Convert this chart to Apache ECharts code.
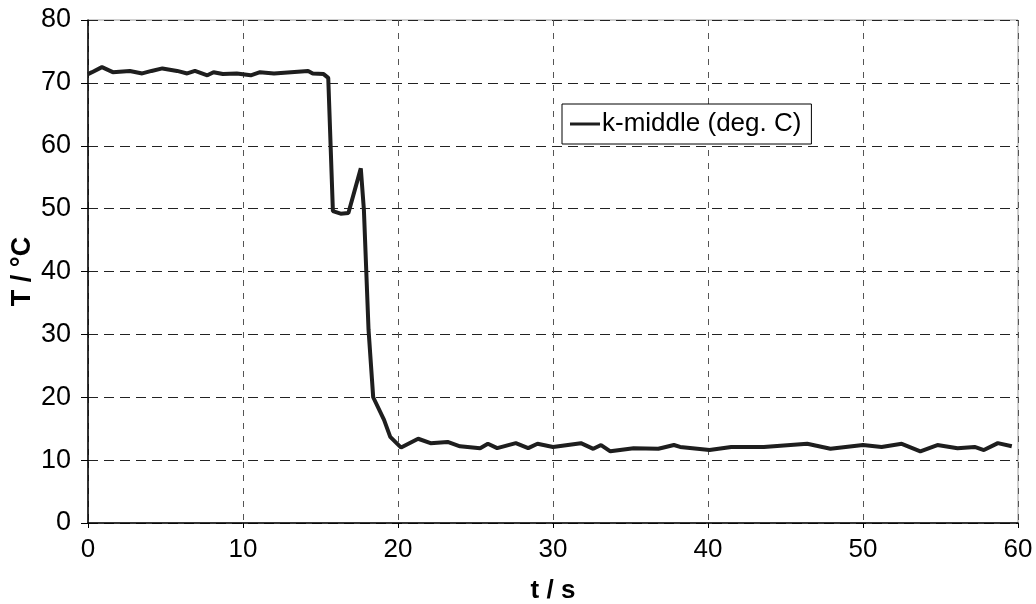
<!DOCTYPE html>
<html>
<head>
<meta charset="utf-8">
<script src="https://cdn.jsdelivr.net/npm/echarts@6/dist/echarts.min.js"></script>
<style>
  html, body { margin: 0; padding: 0; background: #fff; }
  #chart { width: 1036px; height: 604px; }
</style>
</head>
<body>
<div id="chart"></div>
<script>
// Thermocouple reading at the middle position over time
const timeS = [
  0.0, 0.26, 0.9, 1.6, 2.7, 3.5, 4.1, 4.8, 5.75, 6.4, 6.9, 7.7, 8.1, 8.7, 9.6,
  10.5, 11.1, 12.0, 13.1, 14.2, 14.5, 15.2, 15.5,
  15.8, 16.3, 16.8, 17.6, 17.8, 18.1, 18.4, 19.1, 19.5, 20.2,
  21.3, 22.1, 23.2, 24.0, 25.3, 25.8, 26.4, 27.6, 28.4, 29.0, 30.0,
  31.8, 32.6, 33.1, 33.7, 35.2, 36.8, 37.8, 38.2,
  40.1, 41.5, 43.6, 46.4, 47.9, 50.0, 51.2, 52.5, 53.7, 54.8, 56.1, 57.2, 57.8, 58.7, 59.6
];
const tempC = [
  71.4, 71.7, 72.5, 71.7, 71.9, 71.5, 71.9, 72.3, 71.9, 71.5, 71.9, 71.2, 71.7, 71.4, 71.5,
  71.2, 71.7, 71.5, 71.7, 71.9, 71.5, 71.4, 70.8,
  49.6, 49.2, 49.3, 56.4, 49.8, 30.7, 20.0, 16.4, 13.7, 12.0,
  13.4, 12.7, 12.9, 12.2, 11.9, 12.6, 11.9, 12.7, 11.9, 12.6, 12.1,
  12.7, 11.8, 12.4, 11.4, 11.9, 11.8, 12.4, 12.1,
  11.6, 12.1, 12.1, 12.6, 11.8, 12.4, 12.1, 12.6, 11.4, 12.4, 11.9, 12.1, 11.6, 12.7, 12.2
];
const seriesName = 'k-middle (deg. C)';
const xTitle = 't / s';
const yTitle = 'T / °C';

const points = timeS.map((t, i) => [t, tempC[i]]);
const font = 'Liberation Sans, Arial, sans-serif';

const chart = echarts.init(document.getElementById('chart'), null, { renderer: 'canvas' });
chart.setOption({
  animation: false,
  backgroundColor: '#fff',
  grid: {
    left: 88, right: 18, top: 20, bottom: 81,
    outerBoundsMode: 'none',
    containLabel: false,
    show: true, borderColor: '#a0a0a0', borderWidth: 1, backgroundColor: 'transparent'
  },
  legend: {
    data: [seriesName],
    left: 562, top: 104,
    orient: 'horizontal',
    backgroundColor: '#fff',
    borderColor: '#000', borderWidth: 1, borderRadius: 0,
    padding: [7, 10, 7, 8],
    icon: 'rect', itemWidth: 30, itemHeight: 3, itemGap: 4,
    textStyle: { fontFamily: font, fontSize: 26, color: '#000', padding: [2, 0, 0, -3] }
  },
  xAxis: {
    type: 'value', min: 0, max: 60, interval: 10,
    name: xTitle, nameLocation: 'middle', nameGap: 55, nameMoveOverlap: false,
    nameTextStyle: { fontFamily: font, fontSize: 26, fontWeight: 'bold', color: '#000' },
    axisLine: { show: true, onZero: false, lineStyle: { color: '#000', width: 1.5 } },
    axisTick: { show: true, inside: false, length: 5, lineStyle: { color: '#000' } },
    axisLabel: { fontFamily: font, fontSize: 26, color: '#000', margin: 14 },
    splitLine: { show: true, lineStyle: { color: '#555', type: [6, 7], width: 1 } }
  },
  yAxis: {
    type: 'value', min: 0, max: 80, interval: 10,
    name: yTitle, nameLocation: 'middle', nameGap: 52, nameRotate: 90, nameMoveOverlap: false,
    nameTextStyle: { fontFamily: font, fontSize: 27, fontWeight: 'bold', color: '#000' },
    axisLine: { show: true, lineStyle: { color: '#000', width: 1.5 } },
    axisTick: { show: true, inside: false, length: 7, lineStyle: { color: '#000' } },
    axisLabel: { fontFamily: font, fontSize: 27, color: '#000', margin: 17 },
    splitLine: { show: true, lineStyle: { color: '#222', type: [10, 6], width: 1 } }
  },
  series: [{
    name: seriesName,
    type: 'line',
    data: points,
    showSymbol: false,
    smooth: false,
    lineStyle: { color: '#1e1e1e', width: 4 },
    itemStyle: { color: '#1e1e1e' }
  }]
});
</script>
</body>
</html>
